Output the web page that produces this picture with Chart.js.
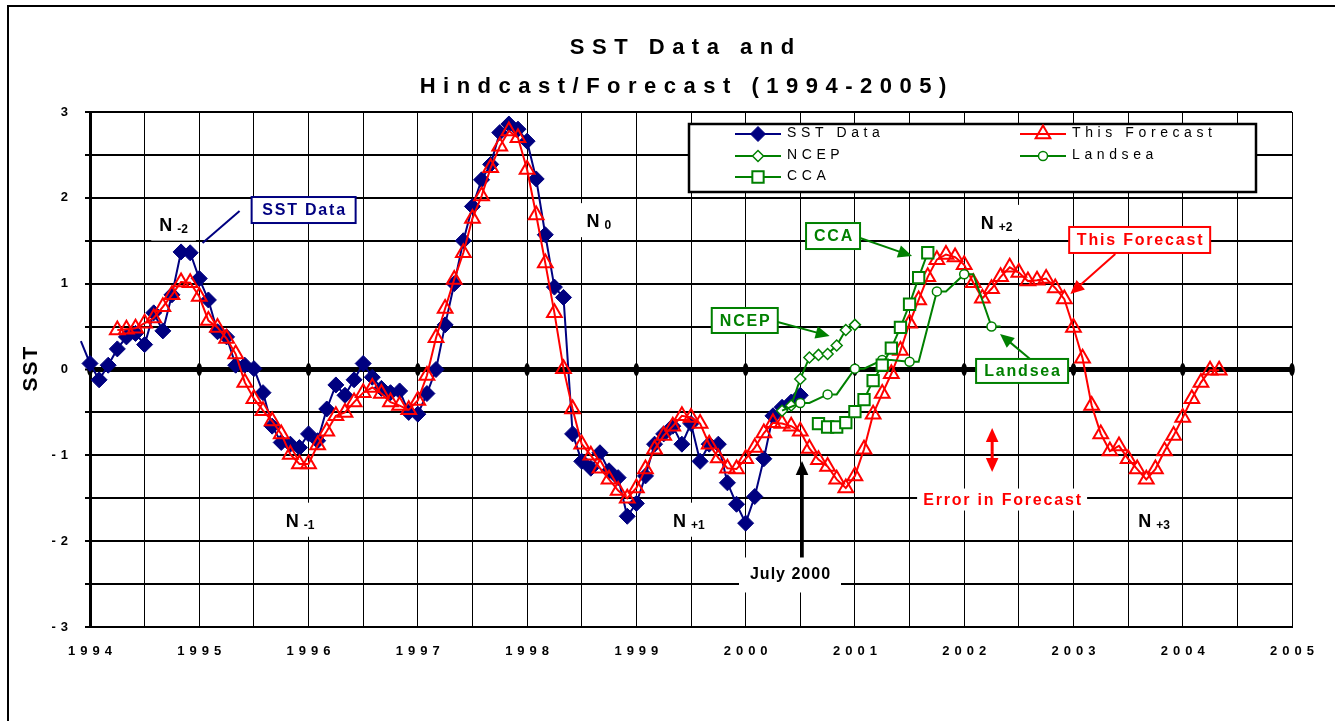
<!DOCTYPE html>
<html>
<head>
<meta charset="utf-8">
<title>SST Data and Hindcast/Forecast (1994-2005)</title>
<script src="https://cdn.jsdelivr.net/npm/chart.js@4.4.1/dist/chart.umd.min.js"></script>
<style>
  html, body { margin: 0; padding: 0; background: #fff; }
  canvas { display: block; }
</style>
</head>
<body>
<canvas id="graficoSST" width="1335" height="721"></canvas>
<script>
// monthly values
const sstStart = 1993 + 11 / 12;   // first value is Dec 1993, just left of the axis
const sstData = [0.33,
  0.07, -0.12, 0.05, 0.24, 0.38, 0.42, 0.29, 0.66, 0.45, 0.87, 1.37, 1.36,
  1.06, 0.81, 0.44, 0.38, 0.05, 0.05, 0.01, -0.27, -0.66, -0.85, -0.87, -0.91,
  -0.75, -0.83, -0.46, -0.18, -0.30, -0.12, 0.07, -0.09, -0.22, -0.27, -0.25, -0.50,
  -0.52, -0.28, 0.00, 0.52, 1.00, 1.50, 1.90, 2.21, 2.39, 2.76, 2.86, 2.80,
  2.66, 2.22, 1.57, 0.96, 0.84, -0.75, -1.07, -1.15, -0.97, -1.18, -1.26, -1.71,
  -1.56, -1.24, -0.87, -0.75, -0.66, -0.87, -0.63, -1.07, -0.87, -0.87, -1.32, -1.57,
  -1.79, -1.48, -1.04, -0.54, -0.44, -0.38, -0.30];

const forecastStart = 1994 + 3 / 12;
const forecastData = [
  0.46, 0.47, 0.48, 0.54, 0.60, 0.73, 0.87, 1.02, 1.01,
  0.85, 0.57, 0.49, 0.36, 0.18, -0.15, -0.34, -0.48, -0.60, -0.75, -0.99, -1.10,
  -1.10, -0.88, -0.72, -0.54, -0.50, -0.38, -0.27, -0.21, -0.28, -0.38, -0.42, -0.47,
  -0.36, -0.07, 0.37, 0.71, 1.05, 1.36, 1.76, 2.02, 2.35, 2.60, 2.78, 2.70,
  2.33, 1.80, 1.24, 0.66, 0.01, -0.46, -0.87, -1.00, -1.15, -1.28, -1.41, -1.50,
  -1.38, -1.16, -0.93, -0.77, -0.66, -0.54, -0.56, -0.63, -0.87, -1.03, -1.15, -1.16,
  -1.04, -0.91, -0.74, -0.62, -0.63, -0.66, -0.72, -0.92, -1.05, -1.13, -1.28, -1.38,
  -1.24, -0.93, -0.52, -0.28, -0.05, 0.22, 0.54, 0.81, 1.08, 1.28, 1.34, 1.31,
  1.22, 1.01, 0.83, 0.94, 1.08, 1.19, 1.13, 1.03, 1.04, 1.06, 0.95, 0.82,
  0.49, 0.13, -0.42, -0.75, -0.95, -0.89, -1.04, -1.16, -1.28, -1.16, -0.95, -0.77,
  -0.56, -0.34, -0.15, -0.01, -0.01];

const ncepStart = 2000 + 4 / 12;
const ncepData = [-0.48, -0.42, -0.11, 0.14, 0.17, 0.18, 0.28, 0.46, 0.52];

// quarterly forecasts, each held one month, then joined to the next quarter
const landseaStart = 2000 + 4 / 12;
const landseaData = [-0.48, null,
  -0.39, -0.39, null, -0.29, -0.29, null, 0.01, 0.01, null,
  0.11, 0.11, null, 0.09, 0.09, null, 0.91, 0.91, null,
  1.11, 1.11, null, 0.50, 0.50];

const ccaStart = 2000 + 8 / 12;
const ccaData = [-0.63, -0.67, -0.67, -0.62, -0.49, -0.35, -0.13, 0.05, 0.25, 0.49, 0.76, 1.07, 1.36];

const yearLabels = [1994, 1995, 1996, 1997, 1998, 1999, 2000, 2001, 2002, 2003, 2004, 2005];
const sstLabels = [-3, -2, -1, 0, 1, 2, 3];

const FONT = '"Liberation Sans", Arial, sans-serif';
const NAVY = '#000080';
const RED = '#ff0000';
const GREEN = '#008000';
const TICK_SPACING = 5;

function monthly(start, values) {
  return values.map((v, i) => ({ x: start + i / 12, y: v }));
}

function spacedText(ctx, text, x, y, font, color, spacing, align) {
  ctx.save();
  ctx.font = font;
  ctx.fillStyle = color;
  ctx.letterSpacing = spacing + 'px';
  ctx.textAlign = 'left';
  ctx.textBaseline = 'middle';
  const w = ctx.measureText(text).width - spacing;
  let x0 = x;
  if (align === 'center') x0 = x - w / 2;
  if (align === 'right') x0 = x - w;
  ctx.fillText(text, x0, y);
  ctx.restore();
  return w;
}

function whiteBox(ctx, cx, cy, w, h) {
  ctx.fillStyle = '#fff';
  ctx.fillRect(cx - w / 2, cy - h / 2, w, h);
}

function labelBox(ctx, text, cx, cy, w, h, color) {
  ctx.save();
  whiteBox(ctx, cx, cy, w, h);
  ctx.strokeStyle = color;
  ctx.lineWidth = 2;
  ctx.strokeRect(cx - w / 2, cy - h / 2, w, h);
  ctx.restore();
  spacedText(ctx, text, cx, cy + 1, 'bold 16px ' + FONT, color, 1.8, 'center');
}

function arrow(ctx, x1, y1, x2, y2, color, width, head) {
  const ang = Math.atan2(y2 - y1, x2 - x1);
  ctx.save();
  ctx.strokeStyle = color;
  ctx.fillStyle = color;
  ctx.lineWidth = width;
  ctx.beginPath();
  ctx.moveTo(x1, y1);
  ctx.lineTo(x2 - Math.cos(ang) * head * 0.8, y2 - Math.sin(ang) * head * 0.8);
  ctx.stroke();
  if (head > 0) {
    ctx.beginPath();
    ctx.moveTo(x2, y2);
    ctx.lineTo(x2 - Math.cos(ang) * head + Math.sin(ang) * head * 0.45, y2 - Math.sin(ang) * head - Math.cos(ang) * head * 0.45);
    ctx.lineTo(x2 - Math.cos(ang) * head - Math.sin(ang) * head * 0.45, y2 - Math.sin(ang) * head + Math.cos(ang) * head * 0.45);
    ctx.closePath();
    ctx.fill();
  }
  ctx.restore();
}

function nLabel(ctx, cx, cy, sub) {
  ctx.save();
  ctx.font = 'bold 18px ' + FONT;
  const wN = ctx.measureText('N').width;
  ctx.font = 'bold 12px ' + FONT;
  const wS = ctx.measureText(sub).width;
  const gap = 5;
  const w = wN + gap + wS;
  whiteBox(ctx, cx, cy, w + 16, 34);
  ctx.fillStyle = '#000';
  ctx.textBaseline = 'alphabetic';
  ctx.font = 'bold 18px ' + FONT;
  ctx.fillText('N', cx - w / 2, cy + 7);
  ctx.font = 'bold 12px ' + FONT;
  ctx.fillText(sub, cx - w / 2 + wN + gap, cy + 9);
  ctx.restore();
}

// notes placed in data units (year, SST)
const nNotes = [
  { x: 1994.765, y: 1.70, sub: '-2' },
  { x: 1998.657, y: 1.74, sub: '0' },
  { x: 1995.923, y: -1.75, sub: '-1' },
  { x: 1999.48, y: -1.75, sub: '+1' },
  { x: 2002.297, y: 1.72, sub: '+2' },
  { x: 2003.739, y: -1.75, sub: '+3' }
];

const boxNotes = [
  { text: 'SST Data', x: 1995.955, y: 1.858, w: 104, h: 26, color: NAVY,
    from: [1995.369, 1.847], to: [1995.03, 1.474], head: 0 },
  { text: 'CCA', x: 2000.80, y: 1.555, w: 54, h: 26, color: GREEN,
    from: [2001.047, 1.532], to: [2001.523, 1.322], head: 14 },
  { text: 'NCEP', x: 1999.992, y: 0.571, w: 66, h: 25, color: GREEN,
    from: [2000.293, 0.553], to: [2000.769, 0.39], head: 14 },
  { text: 'Landsea', x: 2002.53, y: -0.017, w: 92, h: 24, color: GREEN,
    from: [2002.603, 0.122], to: [2002.328, 0.414], head: 14 },
  { text: 'This Forecast', x: 2003.606, y: 1.509, w: 141, h: 26, color: RED,
    from: [2003.383, 1.346], to: [2002.971, 0.88], head: 14 }
];

const decoracao = {
  id: 'decoracao',
  beforeDraw(chart) {
    const ctx = chart.ctx;
    ctx.save();
    ctx.fillStyle = '#fff';
    ctx.fillRect(0, 0, chart.width, chart.height);
    ctx.strokeStyle = '#000';
    ctx.lineWidth = 2;
    ctx.strokeRect(8, 6, chart.width + 20, chart.height + 20);
    ctx.restore();
    // axis labels are drawn spaced out
    ctx.letterSpacing = TICK_SPACING + 'px';
  },
  beforeDatasetsDraw(chart) {
    const ctx = chart.ctx;
    ctx.letterSpacing = '0px';
    const xs = chart.scales.x;
    const y0 = chart.scales.y.getPixelForValue(0);
    ctx.save();
    ctx.fillStyle = '#000';
    yearLabels.forEach(yr => {
      ctx.beginPath();
      ctx.ellipse(xs.getPixelForValue(yr), y0, 2.8, 6.5, 0, 0, Math.PI * 2);
      ctx.fill();
    });
    ctx.restore();
  },
  afterDatasetsDraw(chart) {
    const ctx = chart.ctx;
    const xs = chart.scales.x;
    const ys = chart.scales.y;
    const px = v => xs.getPixelForValue(v);
    const py = v => ys.getPixelForValue(v);

    nNotes.forEach(n => nLabel(ctx, px(n.x), py(n.y), n.sub));

    boxNotes.forEach(b => {
      arrow(ctx, px(b.from[0]), py(b.from[1]), px(b.to[0]), py(b.to[1]), b.color, 2, b.head);
      labelBox(ctx, b.text, px(b.x), py(b.y), b.w, b.h, b.color);
    });

    // error bar and its caption
    const ex = px(2002.256);
    arrow(ctx, ex, py(-0.95), ex, py(-0.682), RED, 3, 14);
    arrow(ctx, ex, py(-0.95), ex, py(-1.194), RED, 3, 14);
    ctx.save();
    whiteBox(ctx, px(2002.347), py(-1.515), 170, 22);
    ctx.restore();
    spacedText(ctx, 'Error in Forecast', px(2002.347), py(-1.53), 'bold 16px ' + FONT, RED, 1.8, 'center');

    // July 2000 marker
    const jx = px(2000.516);
    arrow(ctx, jx, py(-2.22), jx, py(-1.066), '#000', 3.5, 14);
    ctx.save();
    whiteBox(ctx, px(2000.406), py(-2.394), 102, 35);
    ctx.restore();
    spacedText(ctx, 'July 2000', px(2000.406), py(-2.394), 'bold 16px ' + FONT, '#000', 1, 'center');
  },
  afterDraw(chart) {
    const ctx = chart.ctx;

    // title
    spacedText(ctx, 'SST Data and', 682, 48, 'bold 22px ' + FONT, '#000', 7.5, 'center');
    spacedText(ctx, 'Hindcast/Forecast (1994-2005)', 683, 87, 'bold 22px ' + FONT, '#000', 7.5, 'center');

    // y axis title
    ctx.save();
    ctx.translate(31, 369);
    ctx.rotate(-Math.PI / 2);
    spacedText(ctx, 'SST', 0, 0, 'bold 21px ' + FONT, '#000', 2, 'center');
    ctx.restore();

    // legend
    ctx.save();
    ctx.fillStyle = '#fff';
    ctx.fillRect(689, 124, 567, 68);
    ctx.strokeStyle = '#000';
    ctx.lineWidth = 2.5;
    ctx.strokeRect(689, 124, 567, 68);
    ctx.restore();
    const slots = [[735, 134], [1020, 134], [735, 156], [1020, 156], [735, 177]];
    chart.data.datasets.forEach((ds, i) => {
      const [lx, ly] = slots[i];
      ctx.save();
      ctx.strokeStyle = ds.borderColor;
      ctx.lineWidth = 2;
      ctx.beginPath();
      ctx.moveTo(lx, ly);
      ctx.lineTo(lx + 46, ly);
      ctx.stroke();
      ctx.fillStyle = ds.pointBackgroundColor;
      ctx.strokeStyle = ds.pointBorderColor;
      ctx.lineWidth = ds.pointBorderWidth;
      Chart.helpers.drawPoint(ctx, {
        pointStyle: ds.pointStyle,
        radius: ds.legendRadius,
        rotation: 0,
        borderWidth: ds.pointBorderWidth
      }, lx + 23, ly);
      ctx.restore();
      spacedText(ctx, ds.label, lx + 52, ly - 1, '14px ' + FONT, '#000', 4.6, 'left');
    });
  }
};

function constroiGrafico() {
  const data = {
    datasets: [
      {
        label: 'SST Data',
        data: monthly(sstStart, sstData),
        borderColor: NAVY,
        borderWidth: 2,
        pointStyle: 'rectRot',
        pointRadius: ctx => (ctx.raw && ctx.raw.x < 1994 ? 0 : 8),
        pointBackgroundColor: NAVY,
        pointBorderColor: NAVY,
        pointBorderWidth: 1,
        legendRadius: 7.5,
        clip: false,
        order: 4
      },
      {
        label: 'This Forecast',
        data: monthly(forecastStart, forecastData),
        borderColor: RED,
        borderWidth: 2,
        pointStyle: 'triangle',
        pointRadius: 8.5,
        pointBackgroundColor: 'rgba(255,255,255,0)',
        pointBorderColor: RED,
        pointBorderWidth: 2,
        legendRadius: 8.5,
        order: 3
      },
      {
        label: 'NCEP',
        data: monthly(ncepStart, ncepData),
        borderColor: GREEN,
        borderWidth: 2,
        pointStyle: 'rectRot',
        pointRadius: 5.5,
        pointBackgroundColor: '#fff',
        pointBorderColor: GREEN,
        pointBorderWidth: 1.5,
        legendRadius: 5.5,
        order: 2
      },
      {
        label: 'Landsea',
        data: monthly(landseaStart, landseaData),
        borderColor: GREEN,
        borderWidth: 2,
        spanGaps: true,
        pointStyle: 'circle',
        // marker only where the quarterly value starts
        pointRadius: ctx => {
          const i = ctx.dataIndex;
          return landseaData[i] !== null && landseaData[i + 1] === landseaData[i] ? 4.5 : 0;
        },
        pointBackgroundColor: '#fff',
        pointBorderColor: GREEN,
        pointBorderWidth: 1.5,
        legendRadius: 4.5,
        order: 1
      },
      {
        label: 'CCA',
        data: monthly(ccaStart, ccaData),
        borderColor: GREEN,
        borderWidth: 2,
        pointStyle: 'rect',
        pointRadius: 8,
        pointBackgroundColor: '#fff',
        pointBorderColor: GREEN,
        pointBorderWidth: 2,
        legendRadius: 8,
        order: 0
      }
    ]
  };

  const config = {
    type: 'line',
    data: data,
    options: {
      responsive: false,
      animation: false,
      events: [],
      layout: {
        padding: { left: 10, right: 43, top: 112, bottom: 30 }
      },
      elements: {
        line: { tension: 0 }
      },
      plugins: {
        legend: { display: false },
        title: { display: false },
        tooltip: { enabled: false }
      },
      scales: {
        x: {
          type: 'linear',
          min: 1994,
          max: 2005,
          ticks: {
            stepSize: 0.5,
            autoSkip: false,
            maxRotation: 0,
            color: '#000',
            font: { family: FONT, size: 13, weight: 'bold' },
            padding: 17,
            labelOffset: TICK_SPACING / 2,
            callback: v => (yearLabels.includes(v) ? String(v) : '')
          },
          grid: { color: '#000', lineWidth: 1, drawTicks: false },
          border: { display: true, color: '#000', width: 2 },
          afterFit: scale => {
            scale.height = 64;
            scale.paddingLeft = 0;
            scale.paddingRight = 0;
          }
        },
        y: {
          min: -3,
          max: 3,
          ticks: {
            stepSize: 0.5,
            color: '#000',
            font: { family: FONT, size: 13, weight: 'bold' },
            padding: 12,
            callback: v => (sstLabels.includes(v) ? String(v) : '')
          },
          grid: {
            color: '#000',
            lineWidth: ctx => (ctx.tick && ctx.tick.value === 0 ? 5 : 2),
            tickLength: 5,
            tickWidth: 2
          },
          border: { display: true, color: '#000', width: 3 },
          afterFit: scale => {
            scale.width = 80;
            scale.paddingTop = 0;
            scale.paddingBottom = 0;
          }
        }
      }
    },
    plugins: [decoracao]
  };

  new Chart(document.getElementById('graficoSST'), config);
}

constroiGrafico();
</script>
</body>
</html>
